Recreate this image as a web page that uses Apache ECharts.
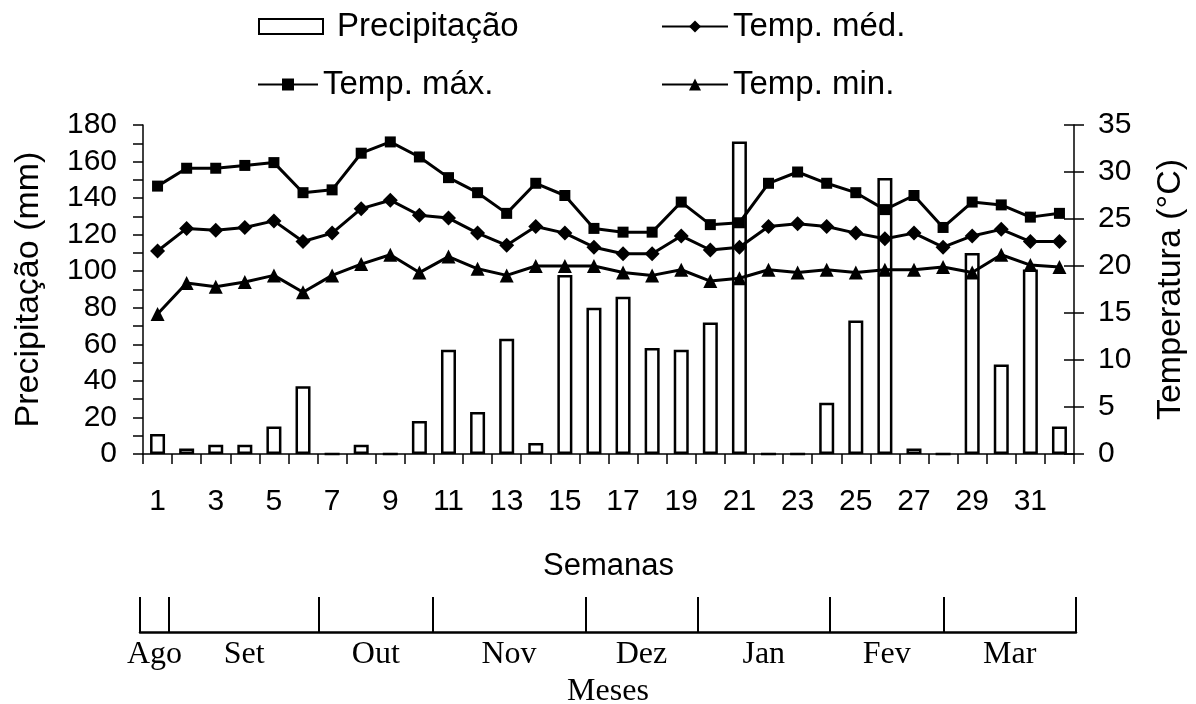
<!DOCTYPE html>
<html>
<head>
<meta charset="utf-8">
<script src="https://cdn.jsdelivr.net/npm/echarts@6/dist/echarts.min.js"></script>
<style>
  html, body { margin: 0; padding: 0; background: #fff; }
  #chart { width: 1196px; height: 704px; }
</style>
</head>
<body>
<div id="chart"></div>
<script>
// semanas (eixo x)
const weeks = ['1','2','3','4','5','6','7','8','9','10','11','12','13','14','15','16',
  '17','18','19','20','21','22','23','24','25','26','27','28','29','30','31','32'];

// precipitação semanal (mm)
const precip = [11, 3, 5, 5, 15, 37, 0, 5, 0, 18, 57, 23, 63, 6, 98, 80,
  86, 58, 57, 72, 171, 0, 0, 28, 73, 151, 3, 0, 110, 49, 101, 15];

// temperaturas (°C)
const tMax = [28.5, 30.4, 30.4, 30.7, 31.0, 27.8, 28.1, 32.0, 33.2, 31.6, 29.4, 27.8, 25.6, 28.8, 27.5, 24.0,
  23.6, 23.6, 26.8, 24.4, 24.6, 28.8, 30.0, 28.8, 27.8, 26.0, 27.5, 24.1, 26.8, 26.5, 25.2, 25.6];
const tMed = [21.6, 24.0, 23.8, 24.1, 24.8, 22.6, 23.5, 26.1, 27.0, 25.4, 25.1, 23.5, 22.2, 24.2, 23.5, 22.0,
  21.3, 21.3, 23.2, 21.7, 22.0, 24.2, 24.5, 24.2, 23.5, 22.9, 23.5, 22.0, 23.2, 23.9, 22.6, 22.6];
const tMin = [14.9, 18.2, 17.8, 18.3, 19.0, 17.2, 19.0, 20.2, 21.2, 19.3, 21.0, 19.7, 19.0, 20.0, 20.0, 20.0,
  19.3, 19.0, 19.6, 18.4, 18.7, 19.6, 19.3, 19.6, 19.3, 19.6, 19.6, 19.9, 19.3, 21.2, 20.1, 19.9];

// eixo dos meses: limites em unidades de semana
const months = ['Ago', 'Set', 'Out', 'Nov', 'Dez', 'Jan', 'Fev', 'Mar'];
const monthEdges = [-0.1, 0.9, 6.05, 9.95, 15.2, 19.05, 23.6, 27.5, 32.05];

const monthMids = months.map((m, i) => (monthEdges[i] + monthEdges[i + 1]) / 2);

const SANS = 'Liberation Sans';
const SERIF = 'Liberation Serif';
const black = '#000';

const chart = echarts.init(document.getElementById('chart'), null, { renderer: 'canvas' });

const legendText = { fontFamily: SANS, fontSize: 33, color: black };
const legendBase = {
  orient: 'horizontal',
  itemWidth: 62,
  itemHeight: 15,
  textStyle: legendText,
  selectedMode: false
};

chart.setOption({
  animation: false,
  backgroundColor: '#fff',
  legend: [
    Object.assign({}, legendBase, { data: [{ name: 'Precipitação', icon: 'rect' }], left: 253, top: 5, itemWidth: 64, itemHeight: 15,
      textStyle: Object.assign({}, legendText, { padding: [0, 0, 0, 9] }) }),
    Object.assign({}, legendBase, { data: ['Temp. méd.'], left: 656, top: 5, itemWidth: 66 }),
    Object.assign({}, legendBase, { data: ['Temp. máx.'], left: 252, top: 63, itemWidth: 60 }),
    Object.assign({}, legendBase, { data: ['Temp. min.'], left: 656, top: 63, itemWidth: 66 })
  ],
  grid: [
    { left: 143, right: 122, top: 125, bottom: 250, outerBoundsMode: 'none', containLabel: false },
    { left: 140, right: 120, top: 597, height: 35, outerBoundsMode: 'none', containLabel: false }
  ],
  xAxis: [
    {
      type: 'category',
      gridIndex: 0,
      data: weeks,
      boundaryGap: true,
      name: 'Semanas',
      nameLocation: 'middle',
      nameGap: 97,
      nameTextStyle: { fontFamily: SANS, fontSize: 31, color: black },
      axisLine: { lineStyle: { color: black, width: 1.5 } },
      axisTick: { show: true, interval: 0, length: 10, lineStyle: { color: black, width: 1.5 } },
      axisLabel: { interval: 1, margin: 33, fontFamily: SANS, fontSize: 30, color: black },
      splitLine: { show: false }
    },
    {
      type: 'value',
      gridIndex: 1,
      min: monthEdges[0],
      max: monthEdges[monthEdges.length - 1],
      name: 'Meses',
      nameLocation: 'middle',
      nameGap: 44,
      nameTextStyle: { fontFamily: SERIF, fontSize: 32, color: black },
      axisLine: { lineStyle: { color: black, width: 2.5 } },
      axisTick: { show: true, inside: true, length: 35, customValues: monthEdges, lineStyle: { color: black, width: 2 } },
      axisLabel: {
        customValues: monthMids,
        margin: 7,
        fontFamily: SERIF,
        fontSize: 32,
        color: black,
        formatter: function (v) {
          let best = 0;
          monthMids.forEach((m, i) => { if (Math.abs(m - v) < Math.abs(monthMids[best] - v)) best = i; });
          return months[best];
        }
      },
      splitLine: { show: false }
    }
  ],
  yAxis: [
    {
      type: 'value',
      gridIndex: 0,
      position: 'left',
      min: 0,
      max: 180,
      interval: 20,
      name: 'Precipitação (mm)',
      nameLocation: 'middle',
      nameRotate: 90,
      nameGap: 97,
      nameTextStyle: { fontFamily: SANS, fontSize: 34, color: black },
      axisLine: { show: true, lineStyle: { color: black, width: 1.5 } },
      axisTick: { show: true, length: 10, lineStyle: { color: black, width: 1.5 } },
      minorTick: { show: true, splitNumber: 2, length: 10, lineStyle: { color: black, width: 1.5 } },
      axisLabel: { margin: 26, fontFamily: SANS, fontSize: 30, color: black },
      splitLine: { show: false },
      minorSplitLine: { show: false }
    },
    {
      type: 'value',
      gridIndex: 0,
      position: 'right',
      min: 0,
      max: 35,
      interval: 5,
      name: 'Temperatura (°C)',
      nameLocation: 'middle',
      nameRotate: 90,
      nameGap: 80,
      nameTextStyle: { fontFamily: SANS, fontSize: 34, color: black },
      axisLine: { show: true, lineStyle: { color: black, width: 1.5 } },
      axisTick: { show: true, length: 10, lineStyle: { color: black, width: 1.5 } },
      axisLabel: { margin: 24, fontFamily: SANS, fontSize: 30, color: black },
      splitLine: { show: false }
    },
    {
      // só os traços internos do eixo da direita
      type: 'value',
      gridIndex: 0,
      position: 'right',
      min: 0,
      max: 35,
      interval: 5,
      axisLine: { show: false },
      axisTick: { show: true, inside: true, length: 10, lineStyle: { color: black, width: 1.5 } },
      axisLabel: { show: false },
      splitLine: { show: false }
    },
    {
      type: 'value',
      gridIndex: 1,
      show: false
    }
  ],
  series: [
    {
      name: 'Precipitação',
      type: 'bar',
      xAxisIndex: 0,
      yAxisIndex: 0,
      data: precip,
      barWidth: 15,
      itemStyle: { color: '#fff', borderColor: black, borderWidth: 2.5 },
      z: 2
    },
    {
      name: 'Temp. méd.',
      type: 'line',
      xAxisIndex: 0,
      yAxisIndex: 1,
      data: tMed,
      symbol: 'diamond',
      symbolSize: 15,
      itemStyle: { color: black },
      lineStyle: { color: black, width: 3 },
      z: 3
    },
    {
      name: 'Temp. máx.',
      type: 'line',
      xAxisIndex: 0,
      yAxisIndex: 1,
      data: tMax,
      symbol: 'rect',
      symbolSize: 11,
      itemStyle: { color: black },
      lineStyle: { color: black, width: 3 },
      z: 3
    },
    {
      name: 'Temp. min.',
      type: 'line',
      xAxisIndex: 0,
      yAxisIndex: 1,
      data: tMin,
      symbol: 'triangle',
      symbolSize: 14,
      itemStyle: { color: black },
      lineStyle: { color: black, width: 3 },
      z: 3
    }
  ]
});

window.addEventListener('resize', () => chart.resize());
</script>
</body>
</html>
